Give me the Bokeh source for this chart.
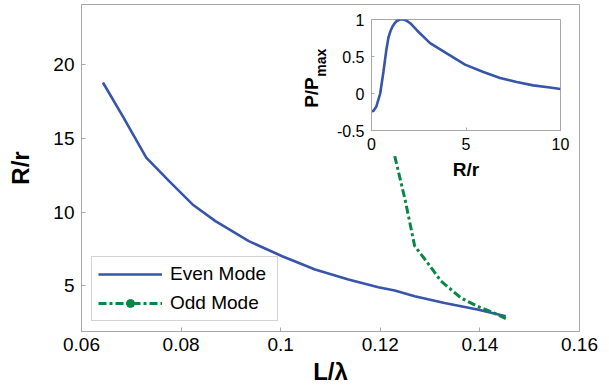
import math
from bokeh.plotting import figure
from bokeh.layouts import column
from bokeh.models import (ColumnDataSource, FixedTicker, Legend,
                          LegendItem, Label)
from bokeh.embed import file_html
from bokeh.resources import INLINE

# ---------------- data ----------------
even_L = [0.0643, 0.0683, 0.0730, 0.0776, 0.0823, 0.0869, 0.0936, 0.1003,
          0.1069, 0.1136, 0.1196, 0.1229, 0.1269, 0.1329, 0.1395, 0.1452]
even_R = [18.8, 16.5, 13.7, 12.1, 10.52, 9.39, 8.03, 7.0,
          6.1, 5.42, 4.9, 4.67, 4.29, 3.83, 3.38, 2.93]

odd_L = [0.1229, 0.1250, 0.1269, 0.1295, 0.1322, 0.1362, 0.1395, 0.1428, 0.1452]
odd_R = [13.8, 10.8, 7.7, 6.55, 5.31, 4.17, 3.6, 3.15, 2.77]

inset_R = [0.0, 0.1, 0.25, 0.46, 0.63, 0.78, 0.9, 1.0, 1.1, 1.2, 1.34, 1.5,
           1.7, 1.85, 2.05, 2.4, 3.1, 4.0, 4.95, 5.92, 6.8, 7.68, 8.56, 9.44,
           10.0]
inset_P = [-0.24, -0.235, -0.18, 0.0, 0.29, 0.58, 0.76, 0.84, 0.9, 0.94,
           0.98, 1.0, 1.0, 0.985, 0.95, 0.855, 0.68, 0.54, 0.39, 0.29, 0.21,
           0.155, 0.11, 0.08, 0.06]

x_ticks = [0.06, 0.08, 0.1, 0.12, 0.14, 0.16]
x_tick_labels = ["0.06", "0.08", "0.1", "0.12", "0.14", "0.16"]
y_ticks = [5, 10, 15, 20]
inset_x_ticks = [0, 5, 10]
inset_y_ticks = [-0.5, 0, 0.5, 1]
inset_y_tick_labels = ["-0.5", "0", "0.5", "1"]

legend_labels = ["Even Mode", "Odd Mode"]
inset_ylabel_main = "P/P"
inset_ylabel_sub = "max"

# ---------------- style ----------------
FONT = "Liberation Sans"
BLUE = "#3755aa"
GREEN = "#0a8746"
GRAY = "#a8a8a8"


def style_axis(ax, tick_size="19px", tick_in=4):
    ax.axis_line_color = GRAY
    ax.major_tick_line_color = GRAY
    ax.minor_tick_line_color = None
    ax.major_tick_in = tick_in
    ax.major_tick_out = 0
    ax.major_label_text_font = FONT
    ax.major_label_text_color = "black"
    ax.major_label_text_font_size = tick_size
    ax.axis_label_text_font = FONT
    ax.axis_label_text_font_style = "bold"
    ax.axis_label_text_color = "black"


# ---------------- main figure ----------------
p = figure(width=609, height=391, x_range=(0.06, 0.16), y_range=(1.89, 24.1),
           output_backend="svg", toolbar_location=None,
           min_border_left=78, min_border_right=30, min_border_top=4,
           min_border_bottom=60)
p.grid.visible = False
p.outline_line_color = GRAY
p.background_fill_color = "white"
p.border_fill_color = "white"

p.xaxis.ticker = FixedTicker(ticks=x_ticks)
p.xaxis.major_label_overrides = dict(zip(x_ticks, x_tick_labels))
p.yaxis.ticker = FixedTicker(ticks=y_ticks)
for ax in p.xaxis + p.yaxis:
    style_axis(ax)
p.xaxis.axis_label = "L/λ"
p.yaxis.axis_label = "R/r"
p.xaxis.axis_label_text_font_size = "24px"
p.yaxis.axis_label_text_font_size = "24px"
p.xaxis.major_label_standoff = 6
p.yaxis.major_label_standoff = 7
p.xaxis.axis_label_standoff = 4
p.yaxis.axis_label_standoff = 16

r_even = p.line(even_L, even_R, line_color=BLUE, line_width=2.6)
r_odd = p.line(odd_L, odd_R, line_color=GREEN, line_width=3,
               line_dash="8 3 3 3")
marker_src = ColumnDataSource(data=dict(x=[float("nan")], y=[float("nan")]))
r_odd_marker = p.scatter("x", "y", source=marker_src, marker="circle",
                         size=7, fill_color=GREEN, line_color=GREEN)

legend = Legend(items=[LegendItem(label=legend_labels[0], renderers=[r_even]),
                       LegendItem(label=legend_labels[1],
                                  renderers=[r_odd, r_odd_marker])],
                location=(10, 10))
legend.label_text_font = FONT
legend.label_text_font_size = "19px"
legend.label_text_color = "black"
legend.border_line_color = GRAY
legend.border_line_width = 1
legend.background_fill_color = "white"
legend.background_fill_alpha = 1
legend.glyph_width = 64
legend.glyph_height = 20
legend.label_height = 20
legend.label_width = 101
legend.label_standoff = 8
legend.padding = 6
legend.spacing = 7
legend.margin = 0
p.add_layout(legend, "center")

# inset y-axis label (placed in the main figure's coordinates, behind the inset)
lab1 = Label(x=0.10625, y=17.08, text=inset_ylabel_main,
             angle=math.pi / 2, text_align="left", text_baseline="middle",
             text_font=FONT, text_font_style="bold", text_font_size="19px",
             text_color="black")
lab2 = Label(x=0.10818, y=19.2, text=inset_ylabel_sub,
             angle=math.pi / 2, text_align="left", text_baseline="middle",
             text_font=FONT, text_font_style="bold", text_font_size="14px",
             text_color="black")
p.add_layout(lab1)
p.add_layout(lab2)

# ---------------- inset figure ----------------
p2 = figure(frame_width=189, frame_height=111, x_range=(0, 10),
            y_range=(-0.5, 1),
            output_backend="svg", toolbar_location=None,
            min_border_left=81, min_border_right=15, min_border_top=11,
            min_border_bottom=50)
p2.grid.visible = False
p2.outline_line_color = GRAY
p2.background_fill_color = "white"
p2.border_fill_alpha = 0
p2.xaxis.ticker = FixedTicker(ticks=inset_x_ticks)
p2.yaxis.ticker = FixedTicker(ticks=inset_y_ticks)
p2.yaxis.major_label_overrides = dict(zip(inset_y_ticks, inset_y_tick_labels))
for ax in p2.xaxis + p2.yaxis:
    style_axis(ax, tick_size="16px", tick_in=3)
p2.xaxis.axis_label = "R/r"
p2.xaxis.axis_label_text_font_size = "19px"
p2.xaxis.major_label_standoff = 7
p2.xaxis.axis_label_standoff = 6
p2.yaxis.major_label_standoff = 7

p2.line(inset_R, inset_P, line_color=BLUE, line_width=2.6)

p.margin = 0
p2.margin = (-383, 0, 0, 290)

layout = column(p, p2)
layout.margin = 0

open("out.html", "w").write(file_html(layout, INLINE))
